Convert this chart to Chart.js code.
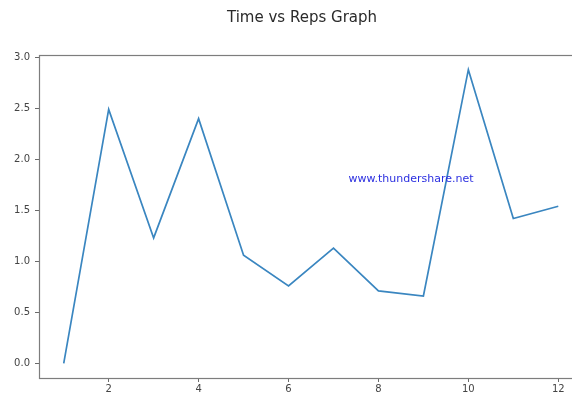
<!DOCTYPE html>
<html>
<head>
<meta charset="utf-8">
<script src="https://cdn.jsdelivr.net/npm/chart.js"></script>
<style>
  html, body { margin: 0; padding: 0; background: #fff; overflow: hidden; }
  #wrap { width: 572px; height: 394px; overflow: hidden; }
</style>
</head>
<body>
<div id="wrap">
  <canvas id="myChart" width="622" height="394"></canvas>
</div>
<script>
  const reps = [1, 2, 3, 4, 5, 6, 7, 8, 9, 10, 11, 12];
  const times = [0.0, 2.49, 1.23, 2.40, 1.06, 0.76, 1.13, 0.71, 0.66, 2.88, 1.42, 1.54];
  const xTicks = [2, 4, 6, 8, 10, 12];
  const yTicks = [0.0, 0.5, 1.0, 1.5, 2.0, 2.5, 3.0];
  const chartTitle = 'Time vs Reps Graph';
  const watermark = 'www.thundershare.net';

  // matplotlib style frame, title and the watermark text
  const frame = {
    id: 'frame',
    afterDraw(chart) {
      const { ctx, chartArea: a } = chart;
      ctx.save();
      ctx.strokeStyle = '#7d7d7d';
      ctx.lineWidth = 1.2;
      ctx.strokeRect(Math.round(a.left) + 0.5, Math.round(a.top) + 0.5,
        Math.round(a.right - a.left), Math.round(a.bottom - a.top));
      ctx.textAlign = 'center';
      ctx.textBaseline = 'middle';
      ctx.fillStyle = '#2a2a2a';
      ctx.font = '15px "DejaVu Sans"';
      ctx.fillText(chartTitle, 302, 18);
      ctx.fillStyle = '#2b2fe0';
      ctx.font = '11px "DejaVu Sans"';
      ctx.fillText(watermark, 411, 179);
      ctx.restore();
    }
  };

  const ctx = document.getElementById('myChart');

  new Chart(ctx, {
    type: 'line',
    data: {
      datasets: [{
        data: reps.map((r, i) => ({ x: r, y: times[i] })),
        borderColor: '#3a86c0',
        borderWidth: 1.7,
        pointRadius: 0,
        tension: 0,
        fill: false
      }]
    },
    options: {
      responsive: false,
      animation: false,
      devicePixelRatio: 1,
      layout: { padding: { left: 0, right: 39, top: 55, bottom: 0 } },
      plugins: {
        legend: { display: false },
        tooltip: { enabled: false },
        title: { display: false }
      },
      scales: {
        x: {
          type: 'linear',
          min: 0.45,
          max: 12.55,
          afterBuildTicks: s => { s.ticks = xTicks.map(v => ({ value: v })); },
          afterFit: s => { s.height = 16; },
          border: { display: false },
          grid: { display: true, drawOnChartArea: false, drawTicks: true, tickLength: 4, color: '#6a6a6a' },
          ticks: {
            color: '#444',
            padding: 1,
            maxRotation: 0,
            font: { family: 'DejaVu Sans', size: 10 },
            callback: v => String(v)
          }
        },
        y: {
          type: 'linear',
          min: -0.144,
          max: 3.024,
          afterBuildTicks: s => { s.ticks = yTicks.map(v => ({ value: v })); },
          afterFit: s => { s.width = 39; },
          border: { display: false },
          grid: { display: true, drawOnChartArea: false, drawTicks: true, tickLength: 4, color: '#6a6a6a' },
          ticks: {
            color: '#444',
            padding: 5,
            font: { family: 'DejaVu Sans', size: 10 },
            callback: v => v.toFixed(1)
          }
        }
      }
    },
    plugins: [frame]
  });
</script>
</body>
</html>
